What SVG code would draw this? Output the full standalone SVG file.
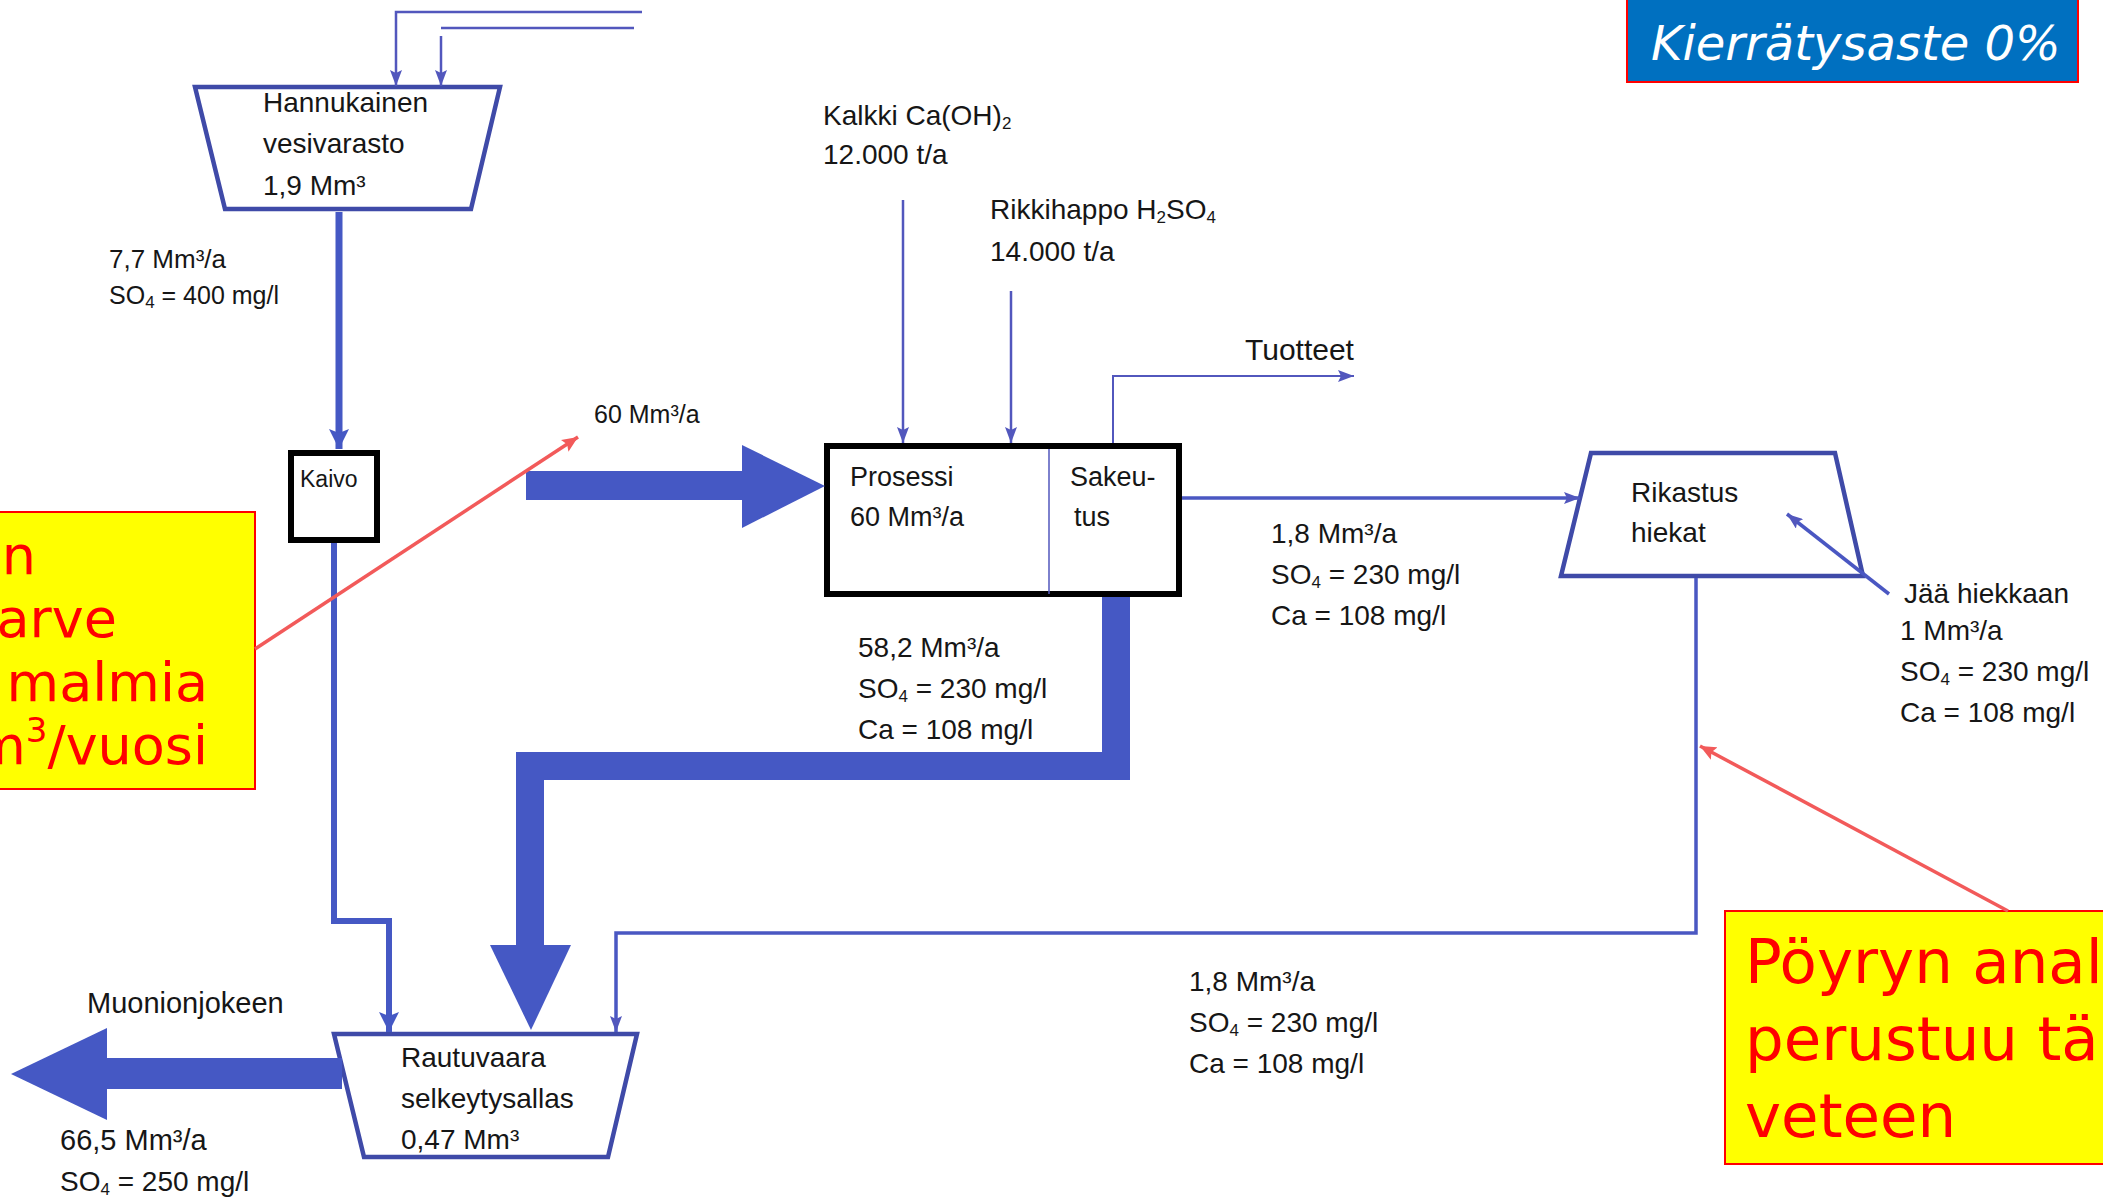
<svg xmlns="http://www.w3.org/2000/svg" width="2103" height="1199" viewBox="0 0 2103 1199">
<defs>
<style>
.t{font-family:"Liberation Sans",Arial,sans-serif;font-size:28px;fill:#161616}
.s{font-size:25px}
.sub{font-size:17px}
.trap{fill:#fff;stroke:#3f4aa8;stroke-width:4.5;stroke-linejoin:miter}
.box{fill:#fff;stroke:#000;stroke-width:6}
.thin{fill:none;stroke:#5257bd;stroke-width:2.5}
.med{fill:none;stroke:#4a57c2;stroke-width:3.5}
.thick{fill:none;stroke:#4558c4;stroke-width:7}
.big{fill:#4558c4}
.red{fill:none;stroke:#f25a5a;stroke-width:3.5}
.note{fill:#ffff00;stroke:#ff0000;stroke-width:2}
.nt{font-family:"DejaVu Sans",sans-serif;fill:#ff0000}
</style>
<marker id="a1" viewBox="0 0 16 12" refX="16" refY="6" markerWidth="16" markerHeight="12" orient="auto" markerUnits="userSpaceOnUse"><path d="M0,0 L16,6 L0,12 L3,6 z" fill="#5257bd"/></marker>
<marker id="a2" viewBox="0 0 20 20" refX="20" refY="10" markerWidth="20" markerHeight="20" orient="auto" markerUnits="userSpaceOnUse"><path d="M0,0 L20,10 L0,20 L4,10 z" fill="#4558c4"/></marker>
<marker id="a3" viewBox="0 0 16 14" refX="16" refY="7" markerWidth="16" markerHeight="14" orient="auto" markerUnits="userSpaceOnUse"><path d="M0,0 L16,7 L0,14 L3,7 z" fill="#f25a5a"/></marker>
</defs>
<rect width="2103" height="1199" fill="#fff"/>

<g id="hannukainen">
<polygon class="trap" points="195,87 500,87 471,209 225,209"/>
<text class="t" x="263" y="112">Hannukainen</text>
<text class="t" x="263" y="153">vesivarasto</text>
<text class="t" x="263" y="195">1,9 Mm³</text>
</g>
<g id="label-77">
<text class="t s" x="109" y="268" style="font-size:26px">7,7 Mm³/a</text>
<text class="t s" x="109" y="304">SO<tspan class="sub" dy="4">4</tspan><tspan dy="-4"> = 400 mg/l</tspan></text>
</g>

<g id="kaivo">
<rect class="box" x="291" y="453" width="86" height="87"/>
<text class="t" style="font-size:23px" x="300" y="487">Kaivo</text>
</g>

<g id="label-60">
<text class="t s" x="594" y="423">60 Mm³/a</text>
</g>

<g id="kalkki">
<text class="t" x="823" y="125">Kalkki Ca(OH)<tspan class="sub" dy="4">2</tspan></text>
<text class="t" x="823" y="164">12.000 t/a</text>
</g>
<g id="rikkihappo">
<text class="t" x="990" y="219">Rikkihappo H<tspan class="sub" dy="4">2</tspan><tspan dy="-4">SO</tspan><tspan class="sub" dy="4">4</tspan></text>
<text class="t" x="990" y="261">14.000 t/a</text>
</g>
<g id="tuotteet">
<text class="t" style="font-size:30px" x="1245" y="360">Tuotteet</text>
</g>

<g id="prosessi">
<rect class="box" x="827" y="446" width="352" height="148"/>
<line x1="1049" y1="449" x2="1049" y2="594" stroke="#5257bd" stroke-width="1.5"/>
<text class="t" style="font-size:27px" x="850" y="486">Prosessi</text>
<text class="t" style="font-size:27px" x="850" y="526">60 Mm³/a</text>
<text class="t" style="font-size:27px" x="1070" y="486">Sakeu-</text>
<text class="t" style="font-size:27px" x="1074" y="526">tus</text>
</g>

<g id="label-18a">
<text class="t" x="1271" y="543">1,8 Mm³/a</text>
<text class="t" x="1271" y="584">SO<tspan class="sub" dy="4">4</tspan><tspan dy="-4"> = 230 mg/l</tspan></text>
<text class="t" x="1271" y="625">Ca = 108 mg/l</text>
</g>

<g id="rikastus">
<polygon class="trap" points="1591,453 1835,453 1863,576 1561,576"/>
<text class="t" x="1631" y="502">Rikastus</text>
<text class="t" x="1631" y="542">hiekat</text>
</g>

<g id="jaa-hiekkaan">
<text class="t" x="1904" y="603">Jää hiekkaan</text>
<text class="t" x="1900" y="640">1 Mm³/a</text>
<text class="t" x="1900" y="681">SO<tspan class="sub" dy="4">4</tspan><tspan dy="-4"> = 230 mg/l</tspan></text>
<text class="t" x="1900" y="722">Ca = 108 mg/l</text>
</g>

<g id="label-582">
<text class="t" x="858" y="657">58,2 Mm³/a</text>
<text class="t" x="858" y="698">SO<tspan class="sub" dy="4">4</tspan><tspan dy="-4"> = 230 mg/l</tspan></text>
<text class="t" x="858" y="739">Ca = 108 mg/l</text>
</g>

<g id="label-18b">
<text class="t" x="1189" y="991">1,8 Mm³/a</text>
<text class="t" x="1189" y="1032">SO<tspan class="sub" dy="4">4</tspan><tspan dy="-4"> = 230 mg/l</tspan></text>
<text class="t" x="1189" y="1073">Ca = 108 mg/l</text>
</g>

<g id="rautuvaara">
<polygon class="trap" points="334,1034 637,1034 608,1157 364,1157"/>
<text class="t" x="401" y="1067">Rautuvaara</text>
<text class="t" x="401" y="1108">selkeytysallas</text>
<text class="t" x="401" y="1149">0,47 Mm³</text>
</g>

<g id="muonionjokeen">
<text class="t" style="font-size:29px" x="87" y="1013">Muonionjokeen</text>
<text class="t" style="font-size:29px" x="60" y="1150">66,5 Mm³/a</text>
<text class="t" x="60" y="1191">SO<tspan class="sub" dy="4">4</tspan><tspan dy="-4"> = 250 mg/l</tspan></text>
</g>

<g id="connectors">
<path class="thin" d="M642,12 H396 V86" marker-end="url(#a1)"/>
<path class="thin" d="M441,28 H634"/>
<path class="thin" d="M441,36 V86" marker-end="url(#a1)"/>
<path class="thick" d="M339,212 V449" marker-end="url(#a2)"/>
<path class="thick" style="stroke-width:6" d="M334,543 V921 H389 V1032" marker-end="url(#a2)"/>
<path class="thin" d="M903,200 V443" marker-end="url(#a1)"/>
<path class="thin" d="M1011,291 V443" marker-end="url(#a1)"/>
<path class="thin" style="stroke-width:2" d="M1113,443 V376 H1354" marker-end="url(#a1)"/>
<path class="med" d="M1182,498 H1580" marker-end="url(#a1)"/>
<path class="med" d="M1696,578 V933 H616 V1032" marker-end="url(#a1)"/>
<path class="med" d="M1889,594 L1787,514" marker-end="url(#a1)"/>
<rect class="big" x="526" y="471" width="218" height="29"/>
<polygon class="big" points="742,445 825,486 742,528"/>
<path fill="none" stroke="#4558c4" stroke-width="28" stroke-linejoin="miter" d="M1116,597 V766 H530 V948"/>
<polygon class="big" points="490,945 571,945 531,1030"/>
<rect class="big" x="105" y="1058" width="237" height="31"/>
<polygon class="big" points="107,1028 11,1074 107,1120"/>
</g>

<g id="kierratysaste">
<rect x="1627" y="-3" width="451" height="85" fill="#0070c0" stroke="#ff0000" stroke-width="2"/>
<text x="1651" y="60" font-family="DejaVu Sans, sans-serif" font-style="italic" font-size="48" fill="#fff">Kierrätysaste 0%</text>
</g>

<g id="note-left">
<rect class="note" x="-5" y="512" width="260" height="277"/>
<g class="nt" font-size="54" text-anchor="end">
<text x="36" y="574">in</text>
<text x="117" y="637">arve</text>
<text x="208" y="701">malmia</text>
<text x="208" y="764">m<tspan font-size="34" dy="-22">3</tspan><tspan dy="22">/vuosi</tspan></text>
</g>
<path class="red" d="M255,649 L578,437" marker-end="url(#a3)"/>
</g>

<g id="note-right">
<rect class="note" x="1725" y="911" width="390" height="253"/>
<g class="nt" font-size="61">
<text x="1745" y="983">Pöyryn anal</text>
<text x="1745" y="1060">perustuu täl</text>
<text x="1745" y="1137">veteen</text>
</g>
<path class="red" d="M2008,911 L1700,746" marker-end="url(#a3)"/>
</g>
</svg>
